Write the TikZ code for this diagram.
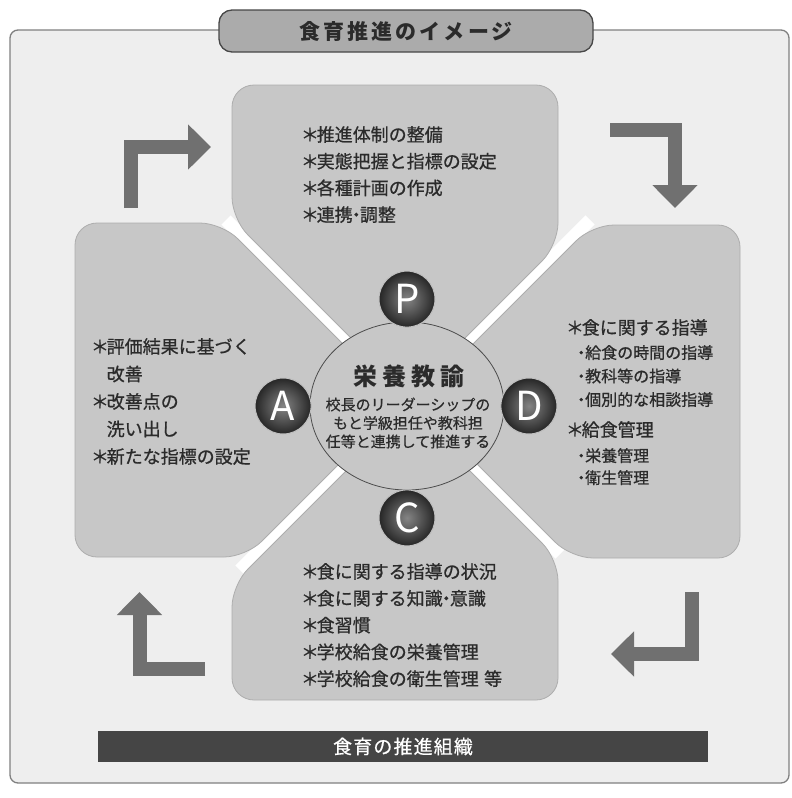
\documentclass[tikz,border=0pt]{standalone}
\usepackage{fontspec}
\setmainfont{Noto Sans CJK JP}
\usetikzlibrary{positioning}
\usetikzlibrary{shapes.geometric}
\usetikzlibrary{arrows.meta}

\definecolor{petalgray}{gray}{0.78}
\definecolor{framegray}{gray}{0.935}
\definecolor{inkgray}{gray}{0.17}
\definecolor{arrowgray}{gray}{0.44}

\newcommand{\bul}{\makebox[0.75em][c]{＊}}
\newcommand{\subdot}{\makebox[0.5em][c]{・}}
\newcommand{\middot}{\makebox[0.4em][c]{・}}

\tikzset{
	petal/.style={fill=petalgray, draw=black!32, line width=0.8pt, rounded corners=22pt},
	gap/.style={draw=white, line width=13pt},
	item/.style={anchor=north west, inner sep=0pt, align=left, text=inkgray},
	phase/.style={circle, minimum size=56pt, inner sep=0pt, draw=white!75!black, line width=1pt, inner color=black!48, outer color=black!85, text=white, font=\fontsize{40}{40}\selectfont},
	flow/.style={draw=arrowgray, line width=14pt, -{Triangle[width=44pt,length=23pt]}},
}

\begin{document}
\begin{tikzpicture}[x=1pt, y=-1pt]
		\fill[white] (0,0) rectangle (792,798);
		\useasboundingbox (0,0) rectangle (792,798);
		\draw[fill=framegray, draw=black!50, line width=1.3pt, rounded corners=8pt] (10,30) rectangle (789,783);
		% white gaps between the four fields
		\draw[gap] (226,220) -- (560,554);
		\draw[gap] (590,220) -- (240,570);
		% the four fields
		\draw[petal] (232,85) -- (558,85) -- (558,245) -- (408,395) -- (232,219) -- cycle;
		\draw[petal] (592,225) -- (740,225) -- (740,558) -- (571,558) -- (415,402) -- cycle;
		\draw[petal] (408,409) -- (558,559) -- (558,700) -- (232,700) -- (232,585) -- cycle;
		\draw[petal] (75,223) -- (222,223) -- (401,402) -- (246,557) -- (75,557) -- cycle;
		% turning arrows
		\coordinate (tlstart) at (131,208);
		\coordinate (tlend) at (211,147);
		\coordinate (trstart) at (610,130);
		\coordinate (trend) at (675,208);
		\coordinate (brstart) at (692,592);
		\coordinate (brend) at (611,654);
		\coordinate (blstart) at (205,669);
		\coordinate (blend) at (139.5,592);
		\draw[flow] (tlstart) |- (tlend);
		\draw[flow] (trstart) -| (trend);
		\draw[flow] (brstart) |- (brend);
		\draw[flow] (blstart) -| (blend);
		% title and bottom bar
		\node[fill=black!33, draw=black!72, line width=1.3pt, rounded corners=13pt, minimum width=374pt, minimum height=42pt, text=inkgray, font=\fontsize{21}{21}\selectfont\bfseries\addfontfeatures{LetterSpace=15}] (title) at (406,31) {食育推進のイメージ};
		\node[fill=black!73, minimum width=610pt, minimum height=31pt, text=white, font=\fontsize{19}{19}\selectfont\addfontfeatures{LetterSpace=6,FakeBold=0.6}] (org) at (403,746.5) {食育の推進組織};
		% texts of the fields
		\node[item, font=\fontsize{18}{26.7}\selectfont\addfontfeatures{FakeBold=0.8}] (plan) at (303,126) {\bul 推進体制の整備\\\bul 実態把握と指標の設定\\\bul 各種計画の作成\\\bul 連携\middot 調整};
		\node[item, font=\fontsize{18}{27.5}\selectfont\addfontfeatures{FakeBold=0.8}] (act) at (93,338) {\bul 評価結果に基づく\\\hspace*{0.75em}改善\\\bul 改善点の\\\hspace*{0.75em}洗い出し\\\bul 新たな指標の設定};
		\node[item, font=\fontsize{18}{26}\selectfont\addfontfeatures{FakeBold=0.8}] (do1) at (568,319) {\bul 食に関する指導};
		\node[item, font=\fontsize{16}{23.5}\selectfont\addfontfeatures{FakeBold=0.8}] (do2) at (577,345) {\subdot 給食の時間の指導\\\subdot 教科等の指導\\\subdot 個別的な相談指導};
		\node[item, font=\fontsize{18}{26}\selectfont\addfontfeatures{FakeBold=0.8}] (do3) at (568,421) {\bul 給食管理};
		\node[item, font=\fontsize{16}{22}\selectfont\addfontfeatures{FakeBold=0.8}] (do4) at (577,448) {\subdot 栄養管理\\\subdot 衛生管理};
		\node[item, font=\fontsize{18}{26.8}\selectfont\addfontfeatures{FakeBold=0.8}] (check) at (303,563) {\bul 食に関する指導の状況\\\bul 食に関する知識\middot 意識\\\bul 食習慣\\\bul 学校給食の栄養管理\\\bul 学校給食の衛生管理\hspace{0.3em}等};
		% centre
		\node[ellipse, minimum width=194pt, minimum height=168pt, fill=petalgray, draw=black!70, line width=0.8pt] (eiyou) at (407,406) {};
		\node[text=inkgray, font=\fontsize{24}{24}\selectfont\bfseries\addfontfeatures{LetterSpace=20}] (eiyoutitle) at (409,376) {栄養教諭};
		\node[text=inkgray, align=center, inner sep=0pt, font=\fontsize{15}{18.5}\selectfont\addfontfeatures{FakeBold=0.6}] (eiyoutext) at (408,423) {校長のリーダーシップの\\もと学級担任や教科担\\任等と連携して推進する};
		\node[phase, above=-6pt of eiyou] (P) {P};
		\node[phase, left=-2pt of eiyou] (A) {A};
		\node[phase, right=-4pt of eiyou] (D) {D};
		\node[phase, below=-1pt of eiyou] (C) {C};
	\end{tikzpicture}
\end{document}
